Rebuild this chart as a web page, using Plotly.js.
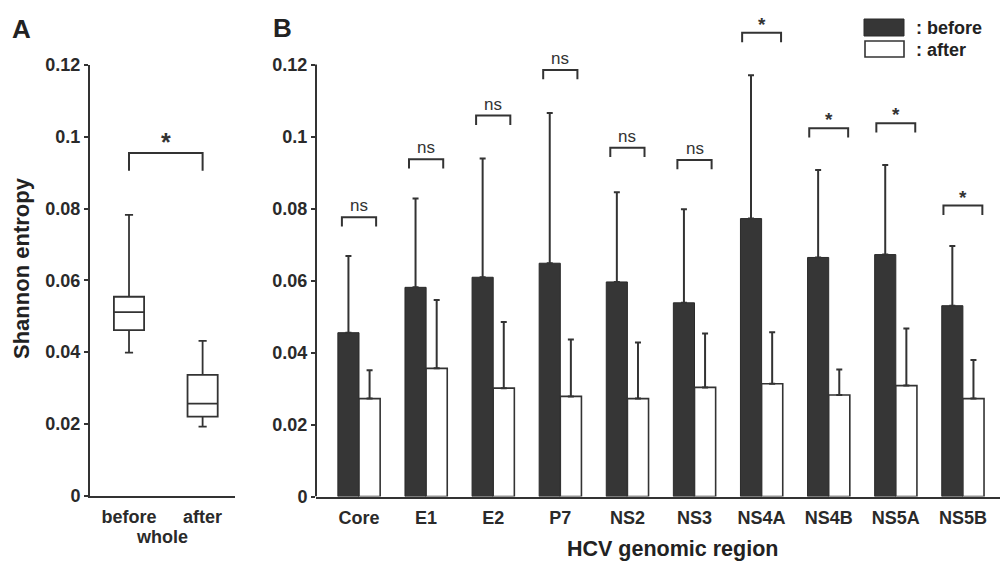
<!DOCTYPE html>
<html>
<head>
<meta charset="utf-8">
<script src="https://cdn.plot.ly/plotly-3.0.1.min.js"></script>
<style>html,body{margin:0;padding:0;background:#fff;}#chart{width:1007px;height:561px;}</style>
</head>
<body>
<div id="chart"></div>
<script>
// ---------- Panel A data (box plot, whole genome) ----------
const boxGroups = ['before', 'after'];
const boxQ1 = [0.0461, 0.0220];
const boxMedian = [0.0511, 0.0256];
const boxQ3 = [0.0554, 0.0336];
const boxLower = [0.0398, 0.0192];
const boxUpper = [0.0782, 0.0431];
const boxSigY = 0.0955;
const boxSigLabel = '*';

// ---------- Panel B data (bars by genomic region) ----------
const categories = ['Core', 'E1', 'E2', 'P7', 'NS2', 'NS3', 'NS4A', 'NS4B', 'NS5A', 'NS5B'];
const beforeMean = [0.0455, 0.0581, 0.0609, 0.0648, 0.0596, 0.0538, 0.0772, 0.0664, 0.0672, 0.0530];
const beforeSD   = [0.0213, 0.0247, 0.0330, 0.0417, 0.0249, 0.0260, 0.0398, 0.0243, 0.0249, 0.0166];
const afterMean  = [0.0272, 0.0356, 0.0301, 0.0278, 0.0272, 0.0303, 0.0313, 0.0282, 0.0308, 0.0272];
const afterSD    = [0.0079, 0.0190, 0.0184, 0.0158, 0.0156, 0.0150, 0.0143, 0.0071, 0.0159, 0.0107];
const sigY       = [0.0776, 0.0937, 0.1058, 0.1185, 0.0969, 0.0935, 0.1288, 0.1023, 0.1037, 0.0808];
const sigLabel   = ['ns', 'ns', 'ns', 'ns', 'ns', 'ns', '*', '*', '*', '*'];

// ---------- Axis ticks ----------
const yTickVals = [0, 0.02, 0.04, 0.06, 0.08, 0.1, 0.12];
const yTickText = ['0', '0.02', '0.04', '0.06', '0.08', '0.1', '0.12'];

// ---------- Styles ----------
const INK = '#333333';
const DARK = '#363636';
const FONT = 'Liberation Sans, Arial, sans-serif';
const W = 1007, H = 561;
const px = v => v / W;
const py = v => 1 - v / H;

const idx = categories.map((_, i) => i);
const zeros = categories.map(() => 0);

const traces = [
  {
    type: 'box',
    x: [0, 1],
    q1: boxQ1, median: boxMedian, q3: boxQ3,
    lowerfence: boxLower, upperfence: boxUpper,
    boxpoints: false,
    width: 0.41,
    whiskerwidth: 0.27,
    fillcolor: '#ffffff',
    line: {color: INK, width: 1.8},
    xaxis: 'x', yaxis: 'y',
    showlegend: false, hoverinfo: 'skip'
  },
  {
    type: 'bar', name: 'before',
    x: idx, y: beforeMean,
    marker: {color: DARK, line: {color: '#2a2a2a', width: 1}},
    error_y: {type: 'data', symmetric: false, array: beforeSD, arrayminus: zeros,
              color: INK, thickness: 2, width: 3},
    xaxis: 'x2', yaxis: 'y2', showlegend: false, hoverinfo: 'skip'
  },
  {
    type: 'bar', name: 'after',
    x: idx, y: afterMean,
    marker: {color: '#ffffff', line: {color: INK, width: 1.6}},
    error_y: {type: 'data', symmetric: false, array: afterSD, arrayminus: zeros,
              color: INK, thickness: 2, width: 3},
    xaxis: 'x2', yaxis: 'y2', showlegend: false, hoverinfo: 'skip'
  }
];

const shapes = [];
const annotations = [];

// Panel B y-axis line drawn only from 0 to 0.12
shapes.push({type: 'line', xref: 'x2 domain', yref: 'y2', x0: 0, x1: 0, y0: 0, y1: 0.12,
             line: {color: INK, width: 2}});

// Panel A significance bracket
shapes.push({type: 'path', xref: 'x', yref: 'y',
  path: `M 0,${boxSigY - 0.005} L 0,${boxSigY} L 1,${boxSigY} L 1,${boxSigY - 0.005}`,
  line: {color: INK, width: 2}});
annotations.push({xref: 'x', yref: 'y', x: 0.5, y: boxSigY, text: boxSigLabel, showarrow: false,
  yanchor: 'bottom', yshift: -5, font: {family: FONT, size: 25, color: INK, weight: 'bold'}});

// Panel B significance brackets
categories.forEach((c, i) => {
  const hw = sigLabel[i] === '*' ? 0.29 : 0.255;
  const y = sigY[i], leg = 0.0026;
  shapes.push({type: 'path', xref: 'x2', yref: 'y2',
    path: `M ${i - hw},${y - leg} L ${i - hw},${y} L ${i + hw},${y} L ${i + hw},${y - leg}`,
    line: {color: INK, width: 2}});
  const star = sigLabel[i] === '*';
  annotations.push({xref: 'x2', yref: 'y2', x: i, y: y, text: sigLabel[i], showarrow: false,
    yanchor: 'bottom', yshift: star ? -4 : 0,
    font: {family: FONT, size: star ? 19 : 17, color: INK, weight: star ? 'bold' : 'normal'}});
});

// Custom legend
shapes.push({type: 'rect', xref: 'paper', yref: 'paper', x0: px(864), x1: px(904), y0: py(36), y1: py(19),
  fillcolor: DARK, line: {color: '#2a2a2a', width: 1}});
shapes.push({type: 'rect', xref: 'paper', yref: 'paper', x0: px(865), x1: px(904), y0: py(57), y1: py(41),
  fillcolor: '#ffffff', line: {color: INK, width: 1.6}});
annotations.push({xref: 'paper', yref: 'paper', x: px(914), y: py(27.5), xanchor: 'left', yanchor: 'middle',
  text: ': before', showarrow: false, font: {family: FONT, size: 18, color: '#222', weight: 'bold'}});
annotations.push({xref: 'paper', yref: 'paper', x: px(914), y: py(49.5), xanchor: 'left', yanchor: 'middle',
  text: ': after', showarrow: false, font: {family: FONT, size: 18, color: '#222', weight: 'bold'}});

// Panel letters
annotations.push({xref: 'paper', yref: 'paper', x: px(21), y: py(29), text: 'A', showarrow: false,
  xanchor: 'center', yanchor: 'middle', font: {family: FONT, size: 26, color: '#222', weight: 'bold'}});
annotations.push({xref: 'paper', yref: 'paper', x: px(282), y: py(28), text: 'B', showarrow: false,
  xanchor: 'center', yanchor: 'middle', font: {family: FONT, size: 26, color: '#222', weight: 'bold'}});

// Axis titles placed as in the reference
annotations.push({xref: 'paper', yref: 'paper', x: px(21), y: py(268), text: 'Shannon entropy', showarrow: false,
  textangle: -90, xanchor: 'center', yanchor: 'middle', font: {family: FONT, size: 22, color: '#222', weight: 'bold'}});
annotations.push({xref: 'paper', yref: 'paper', x: px(672), y: py(549), text: 'HCV genomic region', showarrow: false,
  xanchor: 'center', yanchor: 'middle', font: {family: FONT, size: 21.5, color: '#222', weight: 'bold'}});

const tickFont = {family: FONT, size: 18, color: '#2a2a2a', weight: 'bold'};

const layout = {
  width: W, height: H,
  margin: {l: 0, r: 0, t: 0, b: 0},
  paper_bgcolor: '#ffffff', plot_bgcolor: 'rgba(0,0,0,0)',
  showlegend: false,
  barmode: 'group', bargap: 0.37, bargroupgap: 0,
  xaxis: {
    domain: [px(90), px(235)], range: [-0.53, 1.44], anchor: 'y',
    tickvals: [0, 1], ticktext: boxGroups, tickfont: tickFont,
    showline: true, linewidth: 2, linecolor: INK, ticks: '', showgrid: false, zeroline: false,
    ticklabelstandoff: 4,
    title: {text: 'whole', font: {family: FONT, size: 18, color: '#2a2a2a', weight: 'bold'}, standoff: 0}
  },
  yaxis: {
    domain: [py(495.5), py(65)], range: [0, 0.12], anchor: 'x',
    tickvals: yTickVals, ticktext: yTickText, tickfont: tickFont,
    showline: true, linewidth: 2, linecolor: INK, ticks: 'outside', ticklen: 4, tickwidth: 2, tickcolor: INK,
    showgrid: false, zeroline: false
  },
  xaxis2: {
    domain: [px(316), px(1000)], range: [-0.641, 9.553], anchor: 'y2',
    tickvals: idx, ticktext: categories, tickfont: tickFont,
    showline: true, linewidth: 2, linecolor: INK, ticks: '', showgrid: false, zeroline: false,
    ticklabelstandoff: 4
  },
  yaxis2: {
    domain: [py(496.5), py(21.3)], range: [0, 0.132], anchor: 'x2',
    tickvals: yTickVals, ticktext: yTickText, tickfont: tickFont,
    showline: false, ticks: 'outside', ticklen: 4, tickwidth: 2, tickcolor: INK,
    showgrid: false, zeroline: false
  },
  shapes: shapes,
  annotations: annotations
};

Plotly.newPlot('chart', traces, layout, {staticPlot: true, displayModeBar: false});
</script>
</body>
</html>
